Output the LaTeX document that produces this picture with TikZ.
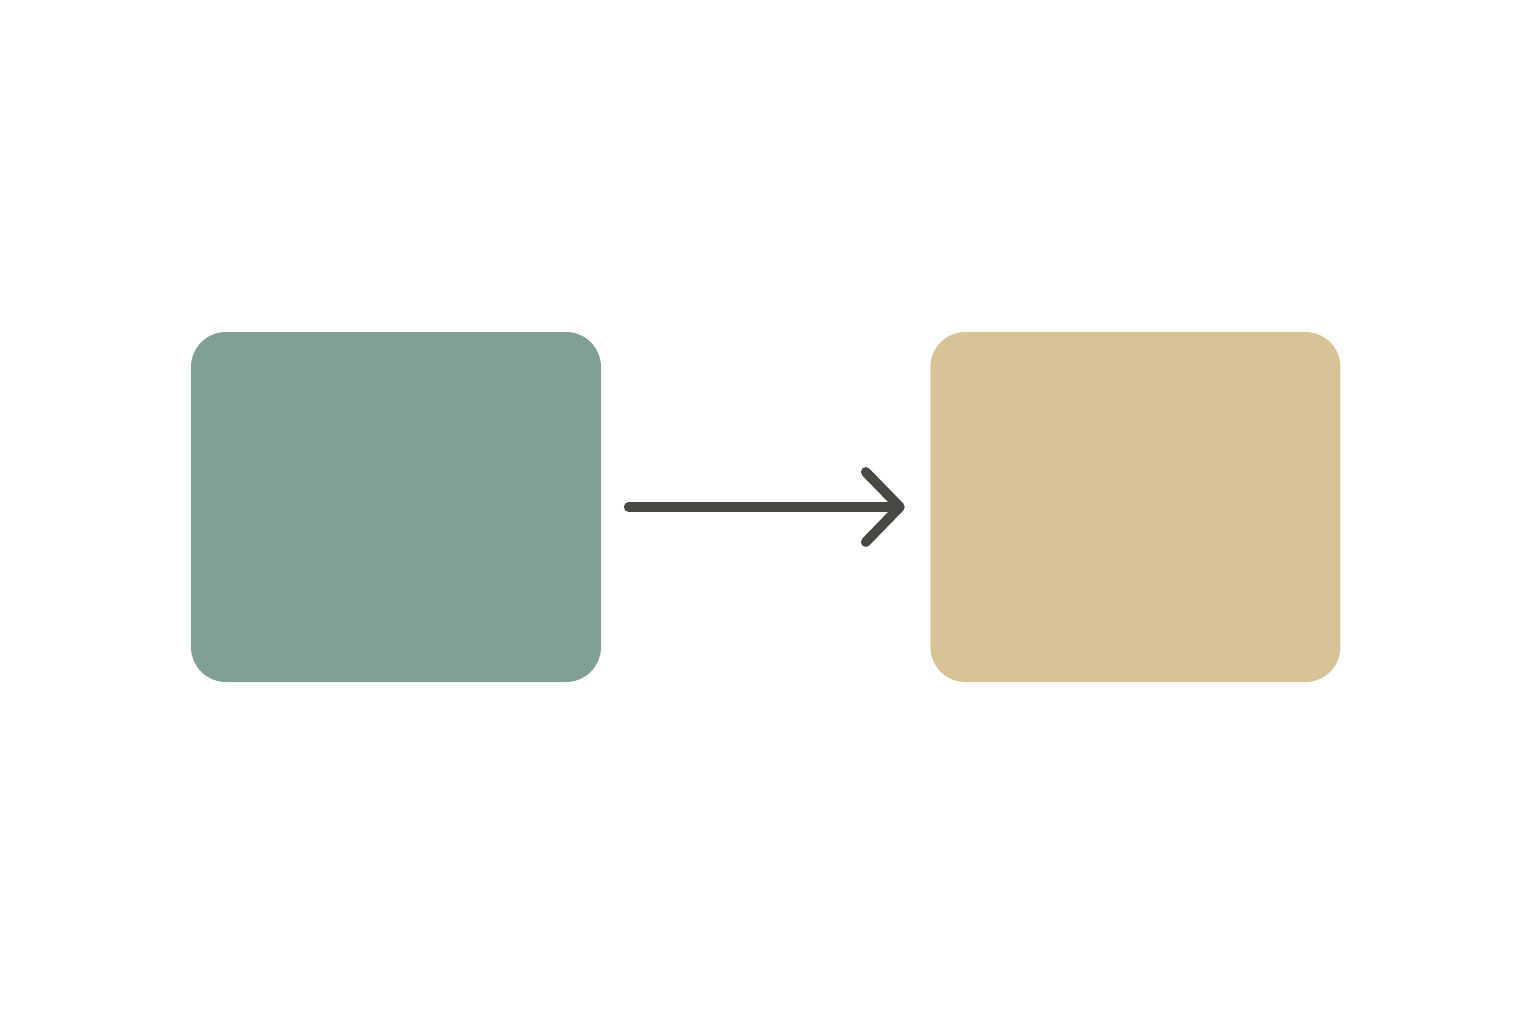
\documentclass[tikz,border=0pt]{standalone}
\usepackage{tikz}
\usetikzlibrary{arrows.meta, positioning}
\definecolor{sage}{HTML}{80A096}
\definecolor{sand}{HTML}{D8C396}
\definecolor{ink}{HTML}{474A44}
\tikzstyle{block} = [rectangle, minimum width=4.1cm, minimum height=3.5cm, rounded corners=0.35cm, inner sep=0pt]
\tikzstyle{arrow} = [draw=ink, line width=2.8pt, line cap=round, line join=round, -{Straight Barb[length=0.34cm, width=0.7cm, round]}]

\begin{document}
\begin{tikzpicture}

\useasboundingbox (0,0) rectangle (15.36,10.24);

% Boxes
\node (src) [block, fill=sage] at (3.96,5.17) {};
\node (dst) [block, fill=sand, right=3.28cm of src] {};

% Arrow
\draw [arrow, shorten <=0.27cm, shorten >=0.25cm] (src) -- (dst);

\end{tikzpicture}
\end{document}
